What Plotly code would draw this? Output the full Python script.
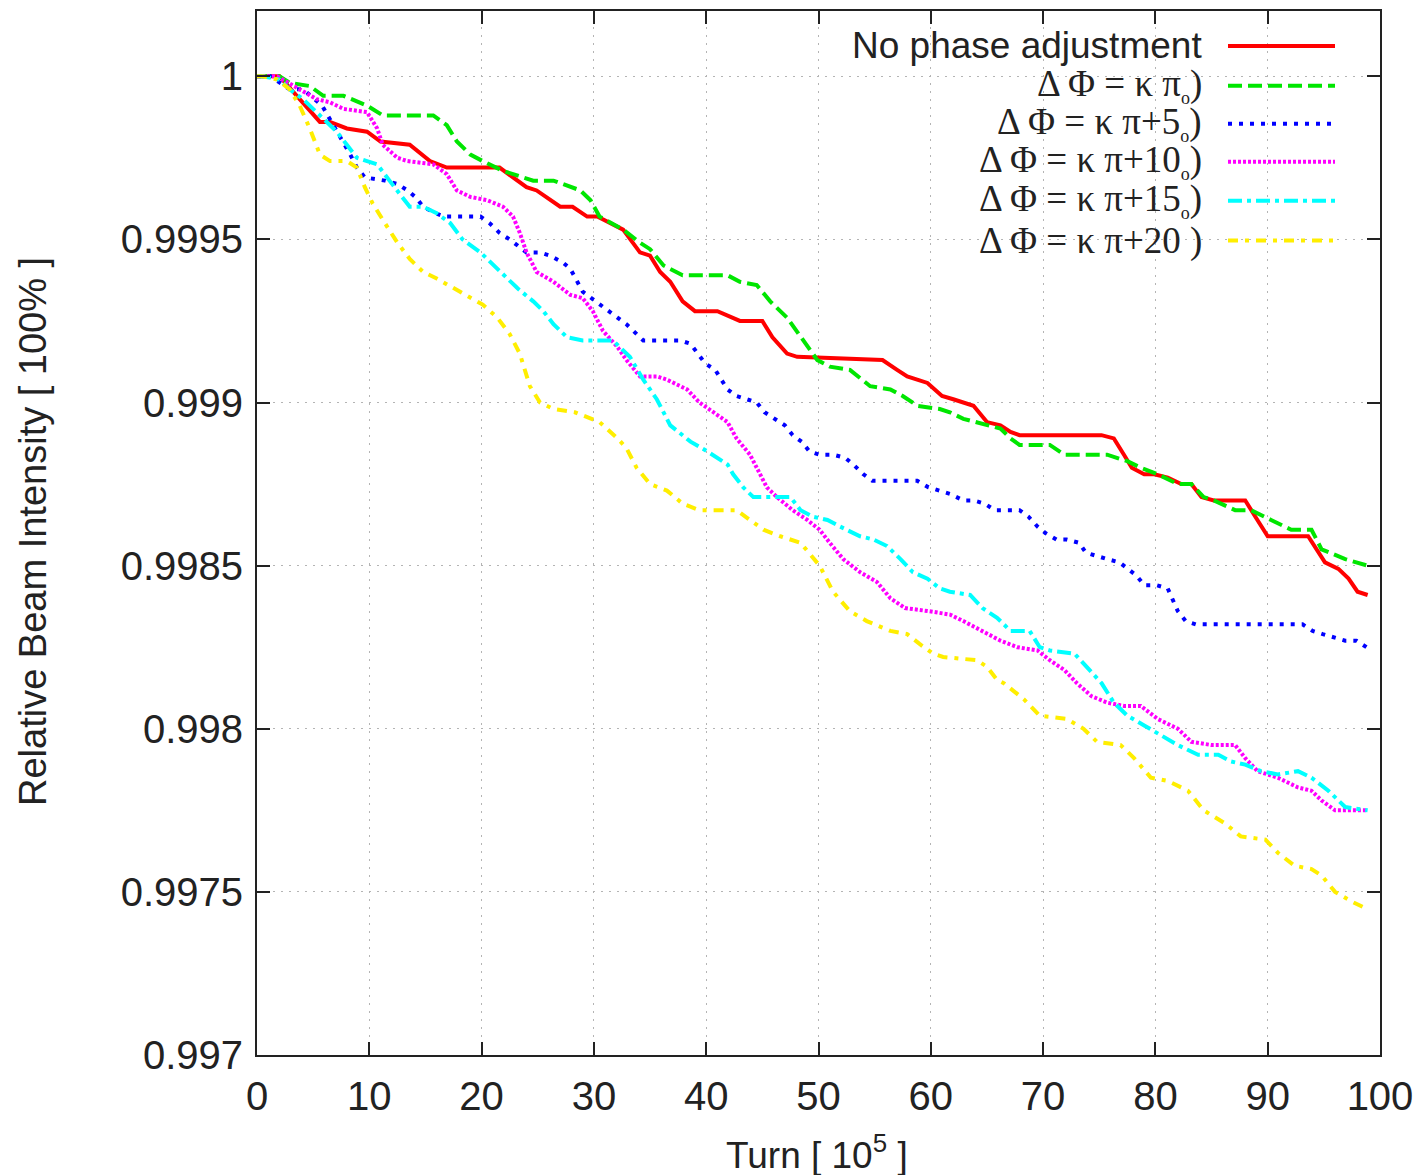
import plotly.graph_objects as go

# ---------------- data ----------------
red_x = [0, 2.0, 3.8, 5.6, 6.5, 8.0, 9.8, 11.0, 13.6, 15.4, 16.9, 21.6, 24.0, 24.9, 27.0, 28.1, 29.4, 30.3,
         32.6, 34.1, 35.0, 35.9, 36.8, 37.9, 39.0, 41.0, 43.0, 45.0, 45.9, 47.2, 48.1, 55.7, 57.0, 57.9, 59.7,
         61.0, 62.0, 63.8, 65.0, 66.2, 67.1, 67.9, 75.2, 76.3, 77.2, 77.9, 79.0, 79.9, 81.1, 82.3, 83.2, 84.1,
         85.2, 88.0, 88.9, 90.0, 93.6, 94.2, 95.1, 96.3, 97.2, 98.0, 98.9]
red_y = [1.0, 1.0, 0.99993, 0.99986, 0.99986, 0.99984, 0.99983, 0.99980, 0.99979, 0.99974, 0.99972, 0.99972,
         0.99966, 0.99965, 0.99960, 0.99960, 0.99957, 0.99957, 0.99953, 0.99946, 0.99945, 0.99940, 0.99937,
         0.99931, 0.99928, 0.99928, 0.99925, 0.99925, 0.99920, 0.99915, 0.99914, 0.99913, 0.99910, 0.99908,
         0.99906, 0.99902, 0.99901, 0.99899, 0.99894, 0.99893, 0.99891, 0.99890, 0.99890, 0.99889, 0.99884,
         0.99880, 0.99878, 0.99878, 0.99877, 0.99875, 0.99875, 0.99871, 0.99870, 0.99870, 0.99865, 0.99859,
         0.99859, 0.99856, 0.99851, 0.99849, 0.99846, 0.99842, 0.99841]

green_x = [0, 2.0, 2.9, 4.7, 5.9, 7.7, 9.8, 11.2, 15.7, 16.9, 17.8, 19.0, 20.1, 21.9, 24.6, 26.4, 28.8, 29.7,
           30.5, 32.6, 34.1, 35.0, 36.2, 37.9, 41.9, 43.0, 44.5, 45.7, 47.2, 48.4, 49.9, 51.0, 52.8, 54.6,
           56.4, 57.5, 58.8, 60.8, 61.7, 62.9, 65.0, 66.2, 67.1, 67.9, 70.6, 71.9, 75.7, 77.5, 78.7, 80.2,
           82.0, 83.2, 84.3, 85.2, 87.1, 88.5, 90.3, 92.1, 93.9, 94.8, 96.9, 98.9]
green_y = [1.0, 1.0, 0.99998, 0.99997, 0.99994, 0.99994, 0.99991, 0.99988, 0.99988, 0.99985, 0.99980,
           0.99976, 0.99974, 0.99971, 0.99968, 0.99968, 0.99965, 0.99962, 0.99957, 0.99953, 0.99949, 0.99947,
           0.99942, 0.99939, 0.99939, 0.99937, 0.99936, 0.99931, 0.99926, 0.99920, 0.99913, 0.99911, 0.99910,
           0.99905, 0.99904, 0.99902, 0.99899, 0.99898, 0.99897, 0.99895, 0.99893, 0.99892, 0.99889, 0.99887,
           0.99887, 0.99884, 0.99884, 0.99882, 0.99880, 0.99878, 0.99875, 0.99875, 0.99871, 0.99870, 0.99867,
           0.99867, 0.99864, 0.99861, 0.99861, 0.99855, 0.99852, 0.99850]

blue_x = [0, 1.2, 2.9, 4.1, 5.8, 6.3, 6.9, 7.4, 8.3, 8.9, 9.6, 11.4, 12.5, 13.4, 14.1, 14.8, 15.9, 16.7, 19.9,
          20.7, 21.6, 22.5, 23.2, 24.0, 25.2, 26.1, 27.2, 27.9, 29.0, 30.5, 32.1, 32.9, 34.4, 35.6, 37.7, 38.6,
          39.3, 39.9, 40.8, 41.4, 41.9, 42.7, 43.6, 44.5, 45.2, 46.1, 47.0, 47.7, 48.5, 49.2, 50.1, 51.3, 52.4,
          53.1, 54.0, 54.8, 55.7, 58.8, 59.8, 60.8, 61.7, 62.9, 63.8, 64.8, 65.7, 66.8, 67.9, 68.7, 69.5, 70.2,
          71.2, 72.1, 73.2, 73.8, 74.7, 75.7, 76.8, 77.5, 78.3, 79.0, 80.1, 81.1, 81.6, 82.0, 82.7, 83.6, 93.1,
          94.0, 94.9, 95.8, 96.9, 97.9, 98.8]
blue_y = [1.0, 1.0, 0.99996, 0.99996, 0.99991, 0.99988, 0.99985, 0.99982, 0.99976, 0.99972, 0.99969, 0.99968,
          0.99967, 0.99965, 0.99963, 0.99960, 0.99958, 0.99957, 0.99957, 0.99955, 0.99952, 0.99950, 0.99948,
          0.99946, 0.99946, 0.99945, 0.99943, 0.99941, 0.99934, 0.99930, 0.99926, 0.99924, 0.99919, 0.99919,
          0.99919, 0.99918, 0.99915, 0.99912, 0.99910, 0.99907, 0.99904, 0.99902, 0.99901, 0.99900, 0.99897,
          0.99895, 0.99893, 0.99890, 0.99888, 0.99885, 0.99884, 0.99884, 0.99883, 0.99881, 0.99878, 0.99876,
          0.99876, 0.99876, 0.99874, 0.99873, 0.99872, 0.99870, 0.99870, 0.99869, 0.99867, 0.99867, 0.99867,
          0.99865, 0.99862, 0.99860, 0.99858, 0.99858, 0.99857, 0.99854, 0.99853, 0.99852, 0.99851, 0.99849,
          0.99847, 0.99844, 0.99844, 0.99843, 0.99839, 0.99836, 0.99833, 0.99832, 0.99832, 0.99830, 0.99829,
          0.99828, 0.99827, 0.99827, 0.99825]

magenta_x = [0, 1.8, 3.8, 5.3, 6.5, 7.7, 9.8, 10.7, 11.2, 12.5, 13.4, 15.7, 16.9, 17.8, 19.0, 20.5, 21.9, 22.8,
             23.4, 24.0, 24.9, 26.4, 27.9, 29.0, 29.9, 30.8, 32.1, 32.9, 34.1, 35.6, 36.5, 38.3, 39.4, 40.6,
             41.9, 42.7, 43.9, 44.5, 45.4, 46.3, 47.7, 49.0, 50.1, 51.0, 52.2, 53.7, 55.2, 56.4, 57.7, 59.9,
             61.7, 62.9, 64.6, 66.2, 67.7, 69.5, 70.6, 71.9, 73.0, 74.3, 75.7, 77.2, 78.7, 80.2, 82.0, 83.2,
             85.0, 87.1, 88.0, 89.1, 90.9, 92.7, 93.9, 94.8, 96.0, 98.9]
magenta_y = [1.0, 1.0, 0.99996, 0.99993, 0.99992, 0.99990, 0.99989, 0.99984, 0.99979, 0.99975, 0.99974, 0.99973,
             0.99970, 0.99965, 0.99963, 0.99962, 0.99960, 0.99957, 0.99952, 0.99946, 0.99940, 0.99937, 0.99933,
             0.99932, 0.99928, 0.99922, 0.99917, 0.99913, 0.99908, 0.99908, 0.99907, 0.99904, 0.99900, 0.99897,
             0.99894, 0.99889, 0.99884, 0.99880, 0.99874, 0.99871, 0.99867, 0.99864, 0.99861, 0.99857, 0.99852,
             0.99848, 0.99845, 0.99840, 0.99837, 0.99836, 0.99835, 0.99833, 0.99830, 0.99827, 0.99825, 0.99824,
             0.99821, 0.99818, 0.99814, 0.99810, 0.99808, 0.99807, 0.99807, 0.99803, 0.99800, 0.99796, 0.99795,
             0.99795, 0.99791, 0.99787, 0.99785, 0.99782, 0.99781, 0.99778, 0.99775, 0.99775]

cyan_x = [0, 0.5, 2.0, 2.9, 4.1, 5.3, 6.2, 7.1, 8.0, 8.9, 9.8, 10.7, 11.8, 12.7, 13.6, 14.8, 16.0, 17.2, 18.3,
          19.9, 21.4, 23.2, 24.6, 25.5, 26.4, 27.6, 29.0, 30.5, 31.7, 33.2, 34.4, 35.6, 36.8, 38.6, 40.1, 41.9,
          42.4, 43.3, 44.2, 47.5, 48.4, 49.5, 50.8, 51.9, 53.7, 54.9, 56.1, 57.3, 58.4, 59.7, 60.8, 61.7, 63.5,
          64.6, 65.9, 67.1, 68.8, 69.7, 70.6, 72.8, 73.9, 75.2, 76.3, 77.5, 79.0, 80.5, 82.0, 83.8, 85.6, 86.7,
          88.0, 89.4, 90.9, 92.7, 93.9, 95.4, 96.9, 98.9]
cyan_y = [1.0, 1.0, 0.99999, 0.99996, 0.99993, 0.99989, 0.99986, 0.99983, 0.99979, 0.99975, 0.99974, 0.99973,
          0.99968, 0.99964, 0.99960, 0.99960, 0.99958, 0.99955, 0.99950, 0.99946, 0.99941, 0.99935, 0.99931,
          0.99928, 0.99924, 0.99920, 0.99919, 0.99919, 0.99919, 0.99914, 0.99907, 0.99901, 0.99893, 0.99888,
          0.99885, 0.99881, 0.99878, 0.99874, 0.99871, 0.99871, 0.99867, 0.99865, 0.99864, 0.99862, 0.99859,
          0.99858, 0.99856, 0.99852, 0.99848, 0.99846, 0.99843, 0.99842, 0.99841, 0.99837, 0.99834, 0.99830,
          0.99830, 0.99825, 0.99824, 0.99823, 0.99819, 0.99814, 0.99808, 0.99804, 0.99801, 0.99798, 0.99795,
          0.99792, 0.99792, 0.99790, 0.99789, 0.99787, 0.99786, 0.99787, 0.99785, 0.99781, 0.99776, 0.99775]

yellow_x = [0, 0.5, 1.8, 2.9, 3.8, 4.7, 5.6, 6.5, 8.0, 8.9, 9.6, 10.3, 11.2, 12.5, 13.6, 14.8, 16.0, 17.5, 19.0,
            20.1, 21.4, 22.5, 23.4, 24.3, 25.2, 26.4, 28.3, 29.7, 30.5, 32.1, 32.9, 33.8, 35.0, 36.5, 37.9,
            39.4, 42.7, 43.9, 45.1, 46.6, 48.4, 50.1, 51.3, 52.8, 54.3, 56.4, 57.9, 59.0, 60.2, 61.1, 64.1,
            65.0, 65.9, 66.5, 68.3, 69.7, 72.1, 73.6, 74.8, 76.9, 78.1, 79.6, 81.1, 82.9, 84.3, 86.2, 87.6,
            89.8, 90.9, 92.4, 93.9, 94.8, 96.0, 97.5, 98.7]
yellow_y = [1.0, 1.0, 0.99999, 0.99996, 0.99991, 0.99984, 0.99976, 0.99974, 0.99974, 0.99972, 0.99966, 0.99961,
            0.99956, 0.99949, 0.99944, 0.99940, 0.99938, 0.99935, 0.99932, 0.99930, 0.99926, 0.99921, 0.99915,
            0.99905, 0.99900, 0.99898, 0.99897, 0.99895, 0.99894, 0.99889, 0.99886, 0.99880, 0.99875, 0.99873,
            0.99869, 0.99867, 0.99867, 0.99864, 0.99861, 0.99859, 0.99857, 0.99850, 0.99842, 0.99836, 0.99833,
            0.99830, 0.99829, 0.99826, 0.99823, 0.99822, 0.99821, 0.99819, 0.99815, 0.99814, 0.99809, 0.99804,
            0.99803, 0.99800, 0.99796, 0.99795, 0.99791, 0.99785, 0.99784, 0.99781, 0.99775, 0.99771, 0.99767,
            0.99766, 0.99762, 0.99758, 0.99757, 0.99755, 0.99750, 0.99747, 0.99745]

SUB_O = "<sub><span style='font-size:18px'>o</span></sub>"
series_names = [
    "No phase adjustment",
    "Δ Φ = κ π" + SUB_O + ")",
    "Δ Φ = κ π+5" + SUB_O + ")",
    "Δ Φ = κ π+10" + SUB_O + ")",
    "Δ Φ = κ π+15" + SUB_O + ")",
    "Δ Φ = κ π+20 )",
]

x_ticks = [0, 10, 20, 30, 40, 50, 60, 70, 80, 90, 100]
y_ticks = [0.997, 0.9975, 0.998, 0.9985, 0.999, 0.9995, 1.0]
y_tick_text = ["0.997", "0.9975", "0.998", "0.9985", "0.999", "0.9995", "1"]

# ---------------- styles ----------------
series = [
    (red_x, red_y, "#ff0000", "solid"),
    (green_x, green_y, "#00e600", "14px,6px"),
    (blue_x, blue_y, "#0000ff", "4px,7px"),
    (magenta_x, magenta_y, "#ff00ff", "3px,2px"),
    (cyan_x, cyan_y, "#00ffff", "14px,5px,4px,5px"),
    (yellow_x, yellow_y, "#ffee00", "10px,7px,4px,7px"),
]

SANS = "Liberation Sans, Arial, sans-serif"
SERIF = "Liberation Serif, Times New Roman, serif"
INK = "#222222"

fig = go.Figure()
for (xs, ys, col, dash), name in zip(series, series_names):
    fig.add_trace(go.Scatter(x=xs, y=ys, mode="lines", name=name,
                             line=dict(color=col, width=4, dash=dash), showlegend=False))

# ---------------- layout geometry (screen pixels; page body has an 8px margin) ----------------
OFF = 8
L, R, T, B = 257, 1380, 9, 1055
W, H = R - L, B - T
def px(xp):
    return (xp - L) / W
def py(yp):
    return (B - yp) / H

shapes = [dict(type="rect", xref="paper", yref="paper", x0=px(835), x1=px(1348), y0=py(256), y1=py(24),
               fillcolor="white", line=dict(width=0), layer="between")]
annotations = []
row_y = [44, 84, 122, 160, 199, 239]
for i, ((xs, ys, col, dash), name) in enumerate(zip(series, series_names)):
    yy = py(row_y[i])
    shapes.append(dict(type="line", xref="paper", yref="paper", x0=px(1228), x1=px(1335), y0=yy, y1=yy,
                       line=dict(color=col, width=4, dash=dash)))
    annotations.append(dict(xref="paper", yref="paper", x=px(1204), y=yy, xanchor="right", yanchor="middle",
                            text=name, showarrow=False,
                            font=dict(family=SANS if i == 0 else SERIF, size=37, color=INK)))

# axis titles
annotations.append(dict(xref="paper", yref="paper", x=px(33), y=py(531), xanchor="center", yanchor="middle",
                        text="Relative Beam Intensity [ 100% ]", textangle=-90, showarrow=False,
                        font=dict(family=SANS, size=38, color=INK)))
annotations.append(dict(xref="paper", yref="paper", x=px(817), y=py(1153), xanchor="center", yanchor="middle",
                        text="Turn [ 10<sup>5</sup> ]", showarrow=False,
                        font=dict(family=SANS, size=37, color=INK)))

axis_common = dict(showline=True, linewidth=2, linecolor=INK, mirror="ticks", ticks="inside", ticklen=13,
                   tickwidth=2, tickcolor=INK, showgrid=True, gridcolor="#b4b4b4", gridwidth=1,
                   griddash="2px,6px", zeroline=False, tickfont=dict(family=SANS, size=40, color=INK))

fig.update_layout(
    width=1424 - OFF, height=1175 - OFF,
    margin=dict(l=L - OFF, r=1424 - R, t=T - OFF, b=1175 - B),
    paper_bgcolor="white", plot_bgcolor="white",
    xaxis=dict(range=[0, 100], tickvals=x_ticks, ticklabelstandoff=5, **axis_common),
    yaxis=dict(range=[0.997, 1.0002], tickvals=y_ticks, ticktext=y_tick_text, ticklabelstandoff=4,
               **axis_common),
    shapes=shapes, annotations=annotations, showlegend=False,
)

fig.write_html("out.html")
